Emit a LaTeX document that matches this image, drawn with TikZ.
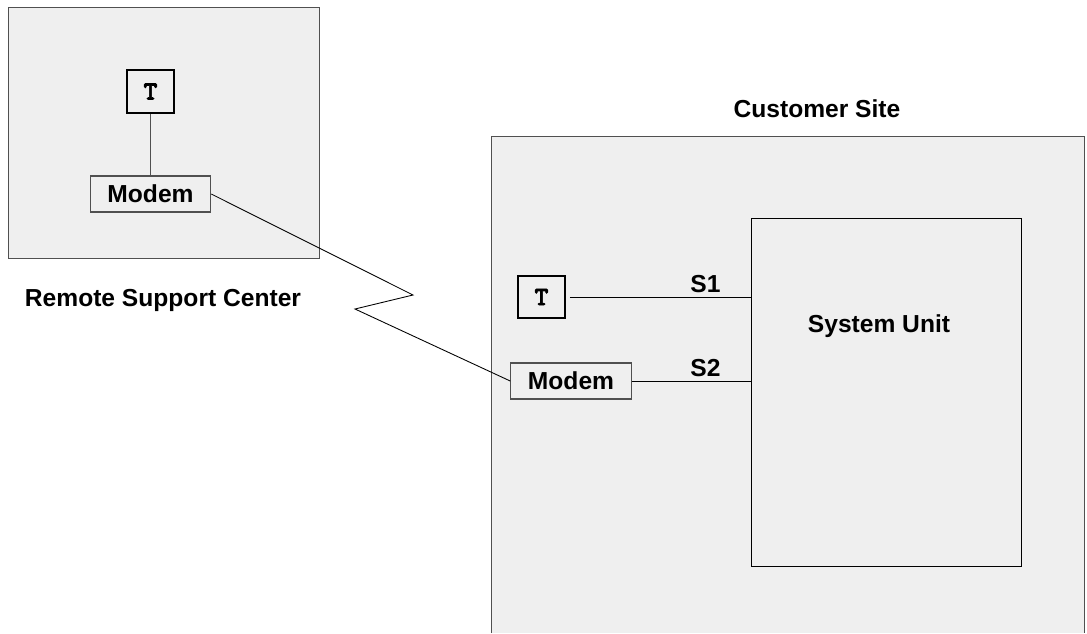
\documentclass[tikz,border=0pt]{standalone}
\usepackage{fontspec}
\setmainfont{Liberation Sans}
\newfontfamily\termfont[FakeBold=2.5]{lmmonolt10-bold.otf}
\usetikzlibrary{calc}
\definecolor{SiteGray}{HTML}{EFEFEF}
\definecolor{EdgeGray}{HTML}{505050}
\newcommand{\lbl}{\fontsize{14}{16}\selectfont\bfseries}
\tikzset{
  site/.style={fill=SiteGray,draw=EdgeGray,line width=0.5pt},
  term/.style={draw=black,line width=1.2pt,fill=SiteGray,inner sep=0pt,
    minimum width=0.93cm,minimum height=0.85cm,
    font=\fontsize{15}{16}\selectfont\termfont\bfseries},
  modem/.style={draw=EdgeGray,line width=0.6pt,fill=SiteGray,inner sep=0pt,
    minimum width=2.41cm,minimum height=0.72cm,font=\lbl},
  wire/.style={line width=0.5pt},
  port/.style={above,inner sep=2pt,font=\lbl},
}

\begin{document}
\begin{tikzpicture}[x=0.02cm,y=-0.02cm]
  \useasboundingbox (0,0) rectangle (1087,633);

  % Remote support center {{{
  \draw[site] (8,7) rectangle (319,258);
  \node[term] (T1) at (150.5,91.5) {T};
  \node[modem] (M1) at (150.5,194) {Modem};
  \draw[wire,EdgeGray] (T1) -- (M1);
  \node[font=\lbl] (rsc) at (163,300) {Remote Support Center};
  % }}}

  % Customer site {{{
  \fill[SiteGray] (491,136) rectangle (1084,633);
  \draw[EdgeGray,line width=0.5pt] (491,633) |- (1084,136) -- (1084,633);
  \node[font=\lbl] (cs) at (817,109) {Customer Site};

  \node[draw=black,line width=0.5pt,fill=SiteGray,minimum width=5.4cm,
    minimum height=6.96cm] (su) at (886,392) {};
  \node[font=\lbl] (sulabel) at (879,326) {System Unit};

  \node[term] (T2) at (541.5,297) {T};
  \node[modem] (M2) at (571,381) {Modem};

  \draw[wire] ([xshift=0.08cm]T2.east) -- (su.west |- T2)
    node[port,pos=0.75] (s1) {S1};
  \draw[wire] (M2.east) -- (su.west |- M2)
    node[port,pos=0.62] (s2) {S2};
  % }}}

  % Phone line {{{
  \coordinate (zz1) at (413,295);
  \coordinate (zz2) at (355,309);
  \draw[wire] (M1.east) -- (zz1) -- (zz2) -- (M2.west);
  % }}}
\end{tikzpicture}
\end{document}
